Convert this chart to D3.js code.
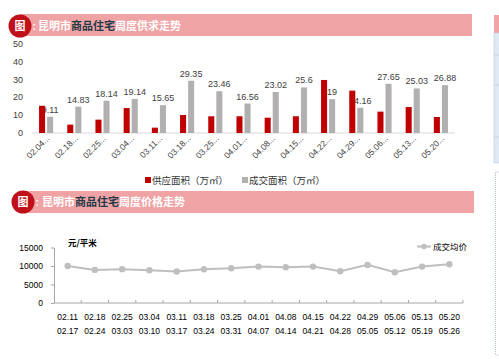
<!DOCTYPE html>
<html><head><meta charset="utf-8">
<script src="https://cdn.jsdelivr.net/npm/d3@7"></script>
<style>
html,body{margin:0;padding:0;background:#fff;}
svg{display:block;}
</style></head>
<body>
<svg id="c" width="499" height="359"></svg>
<script>
// ---- data ----
const barCats = ["02.04...","02.18...","02.25...","03.04...","03.11...","03.18...","03.25...","04.01...","04.08...","04.15...","04.22...","04.29...","05.06...","05.13...","05.20..."];
const supplyArea = [15.3, 4.7, 7.5, 14.0, 3.0, 10.1, 9.4, 9.4, 8.6, 9.4, 29.8, 23.8, 12.0, 14.6, 9.0];
const dealArea = [9.11, 14.83, 18.14, 19.14, 15.65, 29.35, 23.46, 16.56, 23.02, 25.6, 19, 14.16, 27.65, 25.03, 26.88];
const barYTicks = [0, 10, 20, 30, 40, 50];
const seriesNames = ["供应面积（万㎡）", "成交面积（万㎡）"];

const weekStart = ["02.11","02.18","02.25","03.04","03.11","03.18","03.25","04.01","04.08","04.15","04.22","04.29","05.06","05.13","05.20"];
const weekEnd = ["02.17","02.24","03.03","03.10","03.17","03.24","03.31","04.07","04.14","04.21","04.28","05.05","05.12","05.19","05.26"];
const avgPrice = [10000, 8950, 9150, 8870, 8500, 9140, 9400, 9840, 9680, 9840, 8600, 10300, 8330, 9840, 10480];
const priceYTicks = [0, 5000, 10000, 15000];
const priceName = "成交均价";
const priceUnit = "元/平米";

const title1 = ["昆明市", "商品住宅", "周度供求走势"];
const title2 = ["昆明市", "商品住宅", "周度价格走势"];

// ---- styles ----
const RED = "#c00000", GRAY = "#b1afaf", PINK = "#f0a3a5", CIRCLE = "#c0101a";
const CJK = "'Noto Sans CJK SC', sans-serif";
const NUM = "'Liberation Sans', Arial, sans-serif";

const svg = d3.select("#c");

// right side partial panel decoration
svg.append("rect").attr("x",494).attr("y",15).attr("width",6).attr("height",18).attr("fill",PINK);
svg.append("rect").attr("x",494).attr("y",33).attr("width",6).attr("height",130).attr("fill","#dfe9f4").attr("stroke","#c9d3de").attr("stroke-width",0.7);
[55,85,137].forEach(y=>svg.append("line").attr("x1",494).attr("x2",499).attr("y1",y).attr("y2",y).attr("stroke","#c9d3de"));
svg.append("rect").attr("x",495.5).attr("y",172).attr("width",6).attr("height",183).attr("fill","none").attr("stroke","#9fb0c4").attr("stroke-dasharray","1,1").attr("stroke-width",0.8);

// ---- title bars ----
function titleBar(y, cx, cy, textX, parts, right){
  svg.append("rect").attr("x",20).attr("y",y).attr("width",right-20).attr("height",22).attr("fill",PINK);
  svg.append("circle").attr("cx",cx).attr("cy",cy).attr("r",11.5).attr("fill",CIRCLE);
  svg.append("text").attr("x",cx).attr("y",cy+4).attr("text-anchor","middle")
    .attr("font-family",CJK).attr("font-size",11).attr("font-weight","bold").attr("fill","#fff").text("图");
  svg.append("text").attr("x",cx+12.5).attr("y",cy+4).attr("font-family",NUM).attr("font-size",10)
    .attr("font-weight","bold").attr("fill","#fff").text(":");
  const t = svg.append("text").attr("x",textX).attr("y",cy+4).attr("font-family",CJK)
    .attr("font-size",11).attr("font-weight","bold");
  t.append("tspan").attr("fill","#fff").text(parts[0]);
  t.append("tspan").attr("fill","#1f3a48").text(parts[1]);
  t.append("tspan").attr("fill","#fff").text(parts[2]);
}
titleBar(14, 20, 26, 38, title1, 472);
titleBar(191, 23, 202, 42, title2, 474);

// ---- bar chart ----
const x0 = d3.scaleBand().domain(barCats).range([32,455]).paddingInner(0.5).paddingOuter(0.25);
const x1 = d3.scaleBand().domain(["s","d"]).range([0,x0.bandwidth()]).paddingInner(0.25);
const yB = d3.scaleLinear().domain([0,50]).range([133,44]);

const gB = svg.append("g");
gB.append("line").attr("x1",32).attr("x2",455).attr("y1",yB(0)).attr("y2",yB(0)).attr("stroke","#d9d9d9");
gB.selectAll(".yl").data(barYTicks).join("text")
  .attr("x",23).attr("y",d=>yB(d)+3).attr("text-anchor","end")
  .attr("font-family",NUM).attr("font-size",9).attr("fill","#404040").text(d=>d);

// gray bars
gB.selectAll(".gb").data(dealArea).join("rect")
  .attr("x",(d,i)=>x0(barCats[i])+x1("d")).attr("width",x1.bandwidth())
  .attr("y",d=>yB(d)).attr("height",d=>yB(0)-yB(d)).attr("fill",GRAY);
// labels (behind red bars)
gB.selectAll(".lb").data(dealArea).join("text")
  .attr("x",(d,i)=>x0(barCats[i])+x1("d")+x1.bandwidth()/2).attr("y",d=>yB(d)-4)
  .attr("text-anchor","middle").attr("font-family",NUM).attr("font-size",9).attr("fill","#404040")
  .text(d=>d);
// red bars
gB.selectAll(".rb").data(supplyArea).join("rect")
  .attr("x",(d,i)=>x0(barCats[i])+x1("s")).attr("width",x1.bandwidth())
  .attr("y",d=>yB(d)).attr("height",d=>yB(0)-yB(d)).attr("fill",RED);
// x labels rotated
gB.selectAll(".xl").data(barCats).join("text")
  .attr("transform",d=>`translate(${x0(d)+x0.bandwidth()/2+4},${yB(0)+6}) rotate(-45)`)
  .attr("text-anchor","end").attr("font-family",NUM).attr("font-size",8.5).attr("fill","#404040")
  .text(d=>d);

// legend
const lg = svg.append("g").attr("font-family",CJK).attr("font-size",9.5).attr("fill","#333");
lg.append("rect").attr("x",145).attr("y",177).attr("width",6).attr("height",6).attr("fill",RED);
lg.append("text").attr("x",152).attr("y",184).attr("fill","#333").text(seriesNames[0]);
lg.append("rect").attr("x",242).attr("y",177).attr("width",6).attr("height",6).attr("fill",GRAY);
lg.append("text").attr("x",249).attr("y",184).attr("fill","#333").text(seriesNames[1]);

// ---- line chart ----
const xL = d3.scaleBand().domain(weekStart).range([54,463]);
const yL = d3.scaleLinear().domain([0,15000]).range([303,247.5]);
const gL = svg.append("g");

const yAx = gL.append("g").attr("transform","translate(54,0)")
  .call(d3.axisLeft(yL).tickValues(priceYTicks).tickFormat(d3.format("d")).tickSize(3).tickSizeOuter(0).tickPadding(8));
yAx.select(".domain").attr("stroke","#a6a6a6");
yAx.selectAll(".tick line").attr("stroke","#a6a6a6");
yAx.selectAll(".tick text").attr("font-family",NUM).attr("font-size",8.5).attr("fill","#000");

gL.append("line").attr("x1",54).attr("x2",463).attr("y1",yL(0)).attr("y2",yL(0)).attr("stroke","#a6a6a6");
const bounds = weekStart.map(d=>xL(d)).concat([xL.range()[1]]);
gL.selectAll(".xt").data(bounds.slice(1)).join("line")
  .attr("x1",d=>d).attr("x2",d=>d).attr("y1",yL(0)).attr("y2",yL(0)-3).attr("stroke","#a6a6a6");

gL.selectAll(".x1").data(weekStart).join("text")
  .attr("x",d=>xL(d)+xL.bandwidth()/2).attr("y",320).attr("text-anchor","middle")
  .attr("font-family",NUM).attr("font-size",8.5).attr("fill","#000").text(d=>d);
gL.selectAll(".x2").data(weekEnd).join("text")
  .attr("x",(d,i)=>xL(weekStart[i])+xL.bandwidth()/2).attr("y",334).attr("text-anchor","middle")
  .attr("font-family",NUM).attr("font-size",8.5).attr("fill","#000").text(d=>d);

const line = d3.line().x((d,i)=>xL(weekStart[i])+xL.bandwidth()/2).y(d=>yL(d));
gL.append("path").datum(avgPrice).attr("d",line).attr("fill","none").attr("stroke","#bfbfbf").attr("stroke-width",2);
gL.selectAll(".pt").data(avgPrice).join("circle")
  .attr("cx",(d,i)=>xL(weekStart[i])+xL.bandwidth()/2).attr("cy",d=>yL(d)).attr("r",3.2).attr("fill","#bfbfbf");

gL.append("text").attr("x",68).attr("y",246).attr("font-family",CJK).attr("font-size",8.5)
  .attr("font-weight","bold").attr("fill","#000").text(priceUnit);

// line legend
gL.append("line").attr("x1",417).attr("x2",431).attr("y1",246.5).attr("y2",246.5).attr("stroke","#bfbfbf").attr("stroke-width",2);
gL.append("circle").attr("cx",424).attr("cy",246.5).attr("r",2.8).attr("fill","#bfbfbf");
gL.append("text").attr("x",433).attr("y",249.5).attr("font-family",CJK).attr("font-size",8.5).attr("fill","#000").text(priceName);
</script>
</body></html>
